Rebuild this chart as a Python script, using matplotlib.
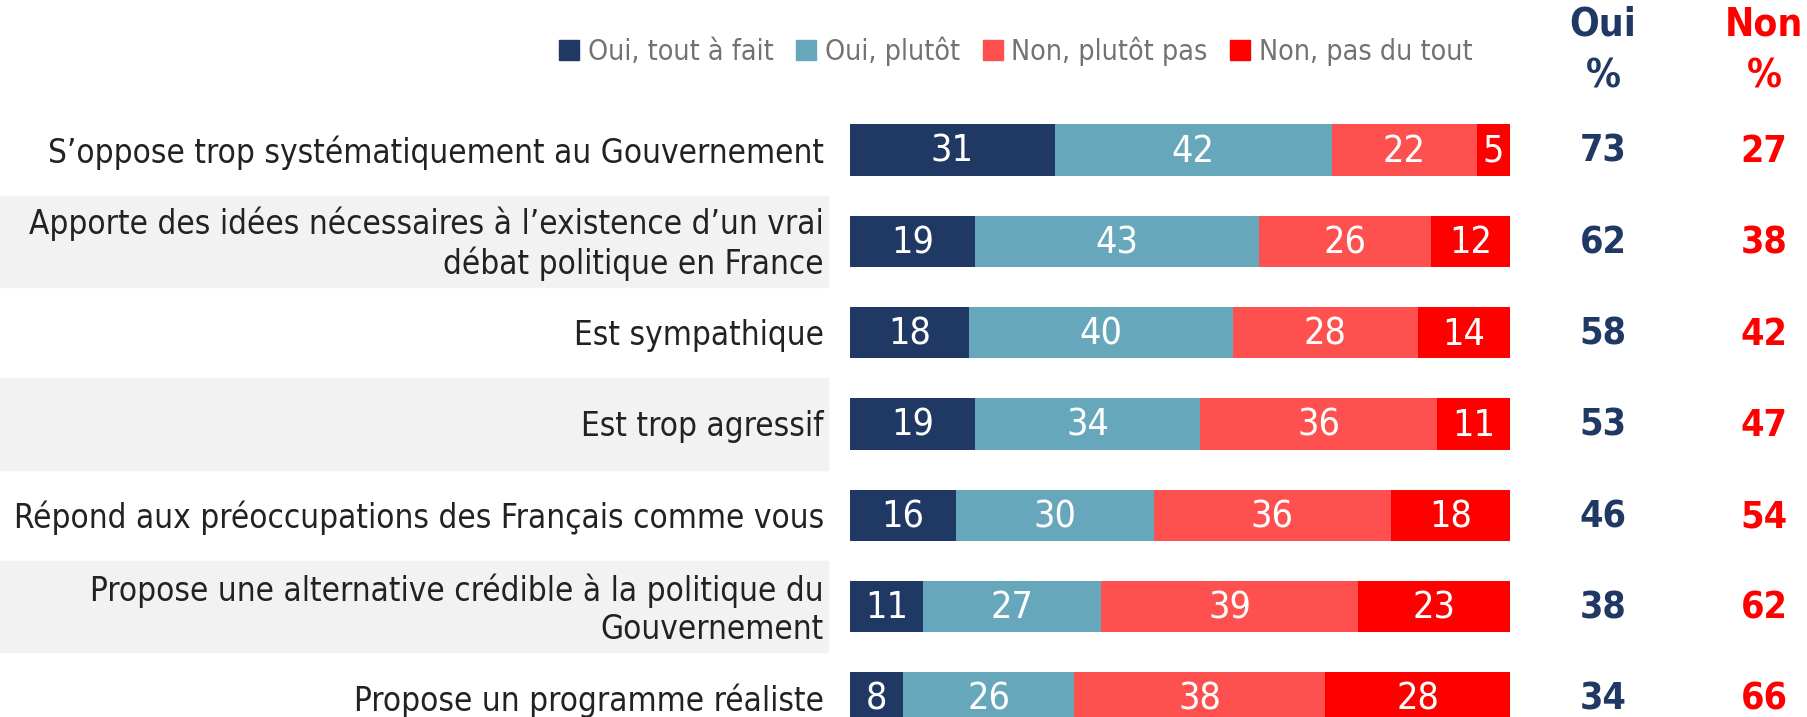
import numpy as np
import matplotlib.pyplot as plt
from matplotlib.patches import Rectangle, Patch

plt.rcParams['font.family'] = ['DejaVu Sans']
plt.rcParams['font.stretch'] = 'condensed'

labels = ["S\u2019oppose trop systématiquement au Gouvernement",
          "Apporte des idées nécessaires à l\u2019existence d\u2019un vrai\ndébat politique en France",
          "Est sympathique",
          "Est trop agressif",
          "Répond aux préoccupations des Français comme vous",
          "Propose une alternative crédible à la politique du\nGouvernement",
          "Propose un programme réaliste"]
tout_a_fait = [31, 19, 18, 19, 16, 11, 8]
plutot = [42, 43, 40, 34, 30, 27, 26]
plutot_pas = [22, 26, 28, 36, 36, 39, 38]
pas_du_tout = [5, 12, 14, 11, 18, 23, 28]
oui_total = [73, 62, 58, 53, 46, 38, 34]
non_total = [27, 38, 42, 47, 54, 62, 66]

series_names = ["Oui, tout à fait", "Oui, plutôt", "Non, plutôt pas", "Non, pas du tout"]
colors = ['#1F3864', '#67A7BB', '#FF5050', '#FF0000']
navy, red = '#1F3864', '#FF0000'

W, H = 1808, 717
fig = plt.figure(figsize=(W / 100, H / 100), dpi=100)
x0, x1 = 850 / W, 1510 / W
ax = fig.add_axes([x0, 0, x1 - x0, 1])
ax.set_xlim(0, 100)
# row 0 centred at 150 px, row step 91.3 px
step = 91.3
ax.set_ylim(6 + (H - 698) / step, -150 / step)
ax.axis('off')

y = np.arange(len(labels))
left = np.zeros(len(labels))
for vals, col in zip([tout_a_fait, plutot, plutot_pas, pas_du_tout], colors):
    vals = np.array(vals)
    ax.barh(y, vals, left=left, height=0.56, color=col)
    for yi, l, v in zip(y, left, vals):
        ax.text(l + v / 2, yi + 0.02, str(v), ha='center', va='center',
                color='white', fontsize=27)
    left += vals

trans = ax.get_yaxis_transform()  # x in axes coords, y in data
fig_x = lambda px: (px / W - x0) / (x1 - x0)
label_texts = []
for i, lab in enumerate(labels):
    if i % 2 == 1:
        ax.add_patch(Rectangle((fig_x(0), i - 0.5), fig_x(828) - fig_x(0), 1.0,
                               transform=trans, color='#F2F2F2', clip_on=False, zorder=0))
    t = ax.text(fig_x(824), i + 0.03, lab, transform=trans, ha='right', va='center',
                fontsize=25, color='#222222', linespacing=1.2)
    label_texts.append(t)
    ax.text(fig_x(1603), i + 0.02, str(oui_total[i]), transform=trans, ha='center',
            va='center', fontsize=27, color=navy, fontweight='bold')
    ax.text(fig_x(1764), i + 0.02, str(non_total[i]), transform=trans, ha='center',
            va='center', fontsize=27, color=red, fontweight='bold')

# scale the row labels so the widest one is as wide as in the original (~812 px)
r = fig.canvas.get_renderer()
widest = max(t.get_window_extent(r).width for t in label_texts)
for t in label_texts:
    t.set_fontsize(25 * 812 / widest)

fig.text(1603 / W, 1 - 25 / H, "Oui", ha='center', va='center', fontsize=28,
         color=navy, fontweight='bold')
fig.text(1603 / W, 1 - 76 / H, "%", ha='center', va='center', fontsize=28,
         color=navy, fontweight='bold')
fig.text(1764 / W, 1 - 25 / H, "Non", ha='center', va='center', fontsize=28,
         color=red, fontweight='bold')
fig.text(1764 / W, 1 - 76 / H, "%", ha='center', va='center', fontsize=28,
         color=red, fontweight='bold')

handles = [Patch(color=c) for c in colors]
fig.legend(handles, series_names, loc='center', bbox_to_anchor=(1016 / W, 1 - 51 / H),
           ncol=4, frameon=False, fontsize=20.5, labelcolor='#767171',
           handlelength=0.7, handleheight=0.7, handletextpad=0.3, columnspacing=0.8)

fig.savefig('out.png', dpi=100)
